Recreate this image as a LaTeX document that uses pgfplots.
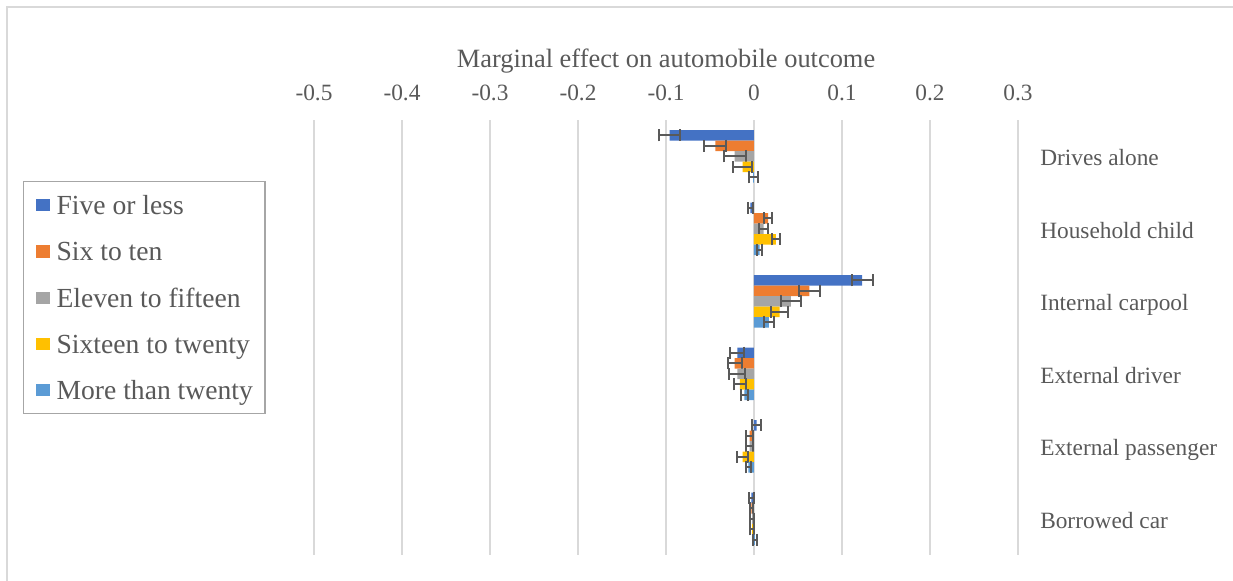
\documentclass[border=0pt]{standalone}
\usepackage{pgfplots}
\pgfplotsset{compat=1.18}
\usepackage{fontspec}
\setmainfont{Liberation Serif}
\definecolor{c1}{HTML}{4472C4}
\definecolor{c2}{HTML}{ED7D31}
\definecolor{c3}{HTML}{A5A5A5}
\definecolor{c4}{HTML}{FFC000}
\definecolor{c5}{HTML}{5B9BD5}
\definecolor{gridc}{HTML}{D9D9D9}
\definecolor{txtc}{HTML}{595959}
\definecolor{errc}{HTML}{595959}
\definecolor{legc}{HTML}{A6A6A6}
\pgfplotsset{
  eb/.style={error bars/.cd, x dir=both, x explicit, error mark=|,
    error bar style={line width=1.5pt, draw=errc},
    error mark options={line width=1.5pt, mark size=4.6pt, draw=errc}},
}
\begin{document}
\begin{tikzpicture}
\draw[draw=gridc, line width=1pt] (5.25pt,-440pt) -- (5.25pt,-5.25pt) -- (930pt,-5.25pt);
\begin{axis}[
  at={(235.5pt,-416.25pt)}, anchor=south west,
  scale only axis, width=528pt, height=326.25pt,
  xmin=-0.5, xmax=0.3, ymin=-0.5, ymax=5.5, y dir=reverse,
  xbar, bar width=0.1448,
  xtick={-0.5,-0.4,-0.3,-0.2,-0.1,0,0.1,0.2,0.3},
  xticklabels={-0.5,-0.4,-0.3,-0.2,-0.1,0,0.1,0.2,0.3},
  xticklabel pos=upper,
  xticklabel style={anchor=base, inner sep=0pt, yshift=14.3pt, font=\fontsize{17.5}{20}\selectfont, text=txtc},
  ytick={0,1,2,3,4,5},
  yticklabels={Drives alone,Household child,Internal carpool,External driver,External passenger,Borrowed car},
  yticklabel pos=right,
  yticklabel style={anchor=base west, inner sep=0pt, xshift=16.5pt, yshift=-7.3pt, font=\fontsize{17.5}{20}\selectfont, text=txtc},
  major tick length=0pt,
  xmajorgrids, grid style={draw=gridc, line width=1pt},
  axis line style={draw=none},
  title={Marginal effect on automobile outcome},
  title style={at={(0.5,1)}, anchor=base, inner sep=0pt, yshift=33.2pt, font=\fontsize{19.8}{23}\selectfont, text=txtc},
  legend cell align=left,
  legend image code/.code={\fill[#1] (0pt,-4.6pt) rectangle (10.5pt,4.6pt);},
  legend style={at={(axis description cs:-0.4134,0.8598)}, anchor=north west,
    draw=legc, line width=1pt, fill=white, text=txtc,
    font=\fontsize{20.7}{24}\selectfont,
    inner xsep=9pt, inner ysep=10.5pt, row sep=20.4pt, column sep=5.25pt,
    nodes={inner sep=0pt, text height=14.3pt, text depth=0pt, anchor=west}},
]
\addplot[fill=c1, draw=none, bar shift=-0.2896, eb] coordinates {
  (-0.096,0) +- (0.012,0)
  (-0.004,1) +- (0.003,0)
  (0.123,2) +- (0.012,0)
  (-0.019,3) +- (0.008,0)
  (0.003,4) +- (0.005,0)
  (-0.003,5) +- (0.003,0)
};
\addplot[fill=c2, draw=none, bar shift=-0.1448, eb] coordinates {
  (-0.044,0) +- (0.0125,0)
  (0.016,1) +- (0.005,0)
  (0.063,2) +- (0.012,0)
  (-0.022,3) +- (0.008,0)
  (-0.005,4) +- (0.004,0)
  (-0.003,5) +- (0.002,0)
};
\addplot[fill=c3, draw=none, bar shift=0, eb] coordinates {
  (-0.022,0) +- (0.0125,0)
  (0.011,1) +- (0.005,0)
  (0.042,2) +- (0.011,0)
  (-0.019,3) +- (0.009,0)
  (-0.005,4) +- (0.004,0)
  (-0.002,5) +- (0.002,0)
};
\addplot[fill=c4, draw=none, bar shift=0.1448, eb] coordinates {
  (-0.013,0) +- (0.011,0)
  (0.025,1) +- (0.0045,0)
  (0.029,2) +- (0.0095,0)
  (-0.016,3) +- (0.0065,0)
  (-0.013,4) +- (0.006,0)
  (-0.002,5) +- (0.002,0)
};
\addplot[fill=c5, draw=none, bar shift=0.2896, eb] coordinates {
  (-0.001,0) +- (0.005,0)
  (0.0065,1) +- (0.003,0)
  (0.017,2) +- (0.0055,0)
  (-0.011,3) +- (0.004,0)
  (-0.0065,4) +- (0.003,0)
  (0.001,5) +- (0.002,0)
};
\legend{Five or less,Six to ten,Eleven to fifteen,Sixteen to twenty,More than twenty}
\end{axis}
\pgfresetboundingbox
\path (0pt,0pt) rectangle (924.75pt,-435.75pt);
\end{tikzpicture}
\end{document}
